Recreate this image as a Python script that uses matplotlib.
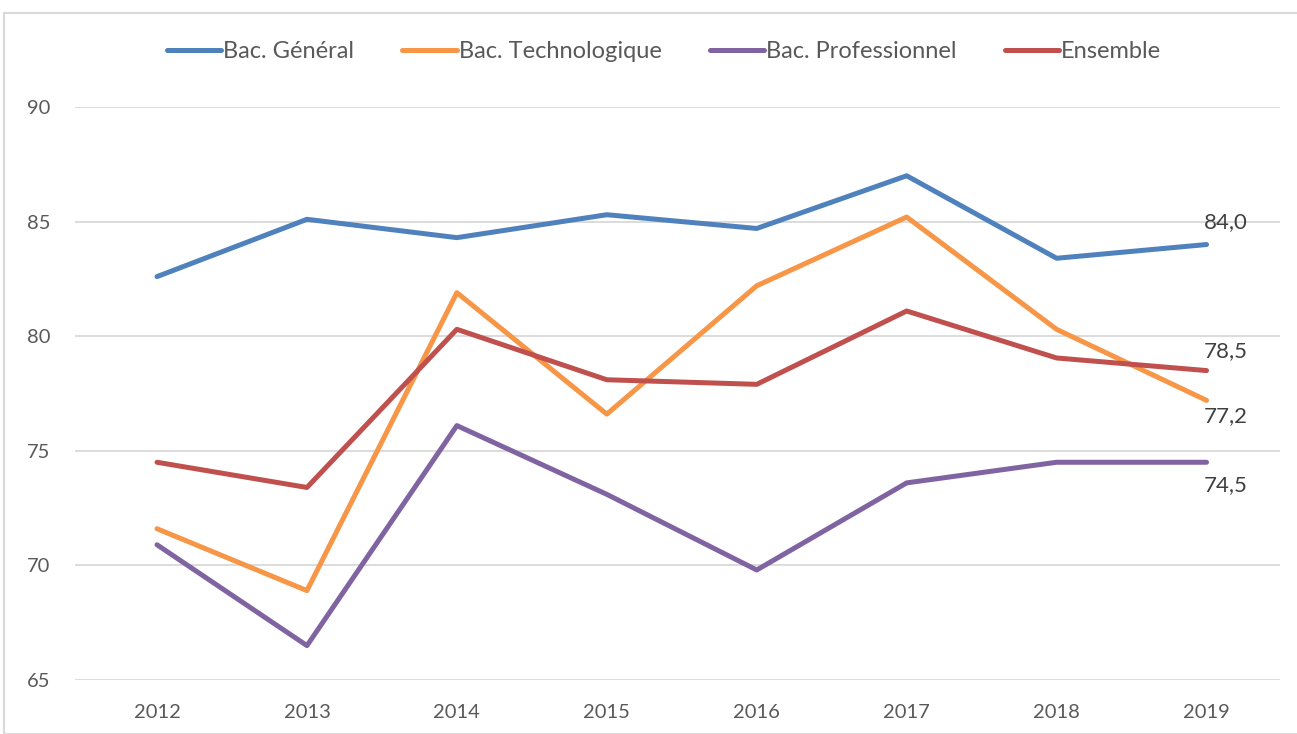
import matplotlib
matplotlib.use("Agg")
import matplotlib.pyplot as plt
from matplotlib.patches import Rectangle

years = ["2012", "2013", "2014", "2015", "2016", "2017", "2018", "2019"]
general = [82.6, 85.1, 84.3, 85.3, 84.7, 87.0, 83.4, 84.0]
techno = [71.6, 68.9, 81.9, 76.6, 82.2, 85.2, 80.3, 77.2]
pro = [70.9, 66.5, 76.1, 73.1, 69.8, 73.6, 74.5, 74.5]
ensemble = [74.5, 73.4, 80.3, 78.1, 77.9, 81.1, 79.05, 78.5]
series_names = ["Bac. Général", "Bac. Technologique", "Bac. Professionnel", "Ensemble"]
colors = ["#4F81BD", "#F79646", "#8064A2", "#C0504D"]
yticks = [65, 70, 75, 80, 85, 90]

plt.rcParams['font.family'] = ['Lato', 'DejaVu Sans']
W, H = 1297, 734
fig = plt.figure(figsize=(W / 100, H / 100), dpi=100)
fig.patches.append(Rectangle((4 / W, 0), 1.2, (H - 13) / H, transform=fig.transFigure,
                             fill=False, edgecolor="#D9D9D9", linewidth=1.5))

ax = fig.add_axes([75 / W, (H - 680) / H, (1280 - 75) / W, (680 - 107) / H])
x = list(range(len(years)))
handles = []
for vals, name, c in zip([general, techno, pro, ensemble], series_names, colors):
    h, = ax.plot(x, vals, color=c, lw=3.6, solid_capstyle="round", solid_joinstyle="round", label=name)
    handles.append(h)

ax.set_ylim(65, 90)
ax.set_xlim(-0.547, 7.49)
ax.set_yticks(yticks)
ax.set_yticklabels([str(v) for v in yticks])
ax.set_xticks(x)
ax.set_xticklabels(years)
ax.grid(axis="y", color="#D9D9D9", lw=1.3)
ax.set_axisbelow(True)
for s in ax.spines.values():
    s.set_visible(False)
ax.tick_params(length=0, colors="#595959", labelsize=14.5)
ax.tick_params(axis="x", pad=17)
ax.tick_params(axis="y", pad=18)

fmt = lambda v: f"{v:.1f}".replace(".", ",")
lab = dict(ha="center", fontsize=16, color="#404040", textcoords="offset points")
ax.annotate(fmt(general[-1]), (7, general[-1]), xytext=(14, 9), va="bottom", **lab)
ax.annotate(fmt(ensemble[-1]), (7, ensemble[-1]), xytext=(14, 7), va="bottom", **lab)
ax.annotate(fmt(techno[-1]), (7, techno[-1]), xytext=(14, -4), va="top", **lab)
ax.annotate(fmt(pro[-1]), (7, pro[-1]), xytext=(14, -9), va="top", **lab)

fig.legend(handles=handles, loc="center", bbox_to_anchor=(664 / W, (H - 52) / H), ncol=4,
           frameon=False, fontsize=17, handlelength=2.3, handletextpad=0.08, columnspacing=2.05,
           labelcolor="#595959")

fig.savefig("out.png", dpi=100)
